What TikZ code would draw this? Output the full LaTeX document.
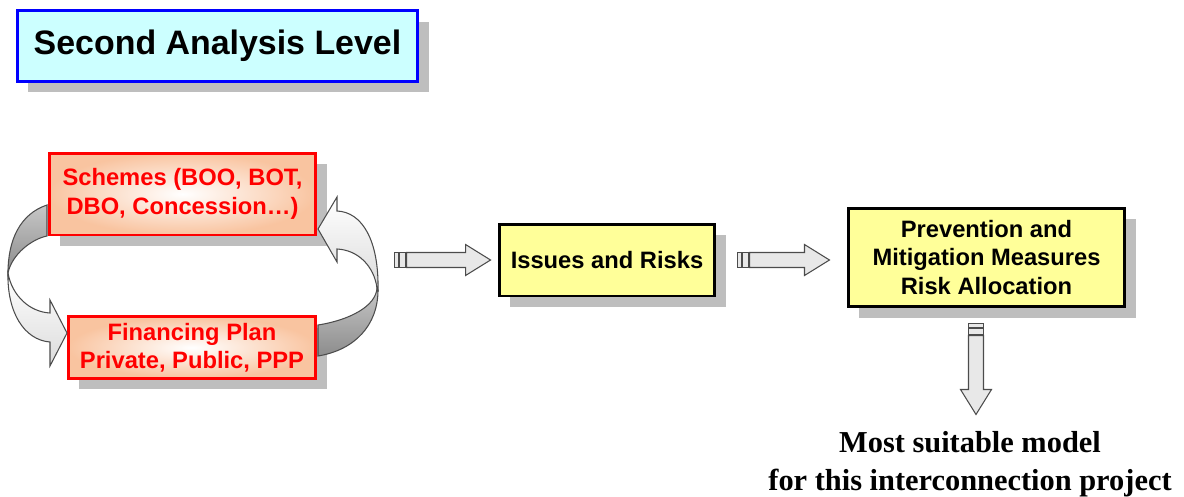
\documentclass[tikz,border=0pt]{standalone}
\usepackage{fontspec}
\setmainfont{Liberation Sans}
\newfontfamily\resultfont{Liberation Serif}
\usetikzlibrary{shadows}

\definecolor{titlefill}{HTML}{CCFFFF}
\definecolor{boxyellow}{HTML}{FFFF99}
\definecolor{peach}{HTML}{F9C4A0}
\definecolor{shadowgray}{HTML}{BEBEBE}

\tikzset{
  boxshadow/.style={drop shadow={shadow xshift=0.22cm,shadow yshift=-0.22cm,fill=shadowgray,opacity=1}},
  titlebox/.style={draw=blue,fill=titlefill,line width=1.7pt,boxshadow,
    font=\fontsize{19.3}{23}\selectfont\bfseries},
  planbox/.style={draw=red,line width=1.7pt,inner color=white,outer color=peach,text=red,
    boxshadow,align=center,font=\fontsize{13.5}{16.2}\selectfont\bfseries},
  stepbox/.style={draw=black,fill=boxyellow,line width=1.7pt,boxshadow,align=center,
    font=\fontsize{13.5}{16.2}\selectfont\bfseries},
  arrowpart/.style={draw=black!70,line width=0.6pt,fill=black!9},
  loopfront/.style={draw=black!70,line width=0.6pt,top color=white,bottom color=black!14},
  loopback/.style={draw=black!70,line width=0.6pt,top color=black!22,bottom color=black!45},
  pics/bigarrow/.style={code={
    \draw[arrowpart] (0,-7.5) rectangle (4,7.5);
    \draw[arrowpart] (5,-7.5) rectangle (11,7.5);
    \draw[arrowpart] (12,-7.5) -- ({#1-25},-7.5) -- ({#1-25},-15.5) -- (#1,0)
      -- ({#1-25},15.5) -- ({#1-25},7.5) -- (12,7.5) -- cycle;
  }}
}

\begin{document}
\begin{tikzpicture}[x=0.02cm,y=-0.02cm]
\useasboundingbox (0,0) rectangle (1184,497);

\node[titlebox,minimum width=8.02cm,minimum height=1.42cm] (title) at (217.5,46) {Second Analysis Level};

\node[planbox,minimum width=5.34cm,minimum height=1.64cm] (schemes) at (182.5,194)
  {Schemes (BOO, BOT,\\DBO, Concession\dots)};
\node[planbox,minimum width=4.96cm,minimum height=1.22cm] (financing) at (192,347.5)
  {Financing Plan\\Private, Public, PPP};

\node[stepbox,minimum width=4.32cm,minimum height=1.44cm] (issues) at (607,260) {Issues and Risks};
\node[stepbox,minimum width=5.54cm,minimum height=1.98cm] (prevention) at (986.5,257.5)
  {Prevention and\\Mitigation Measures\\Risk Allocation};

% loop between schemes and financing
\draw[loopback] (47,205) .. controls (20,214) and (8,240) .. (8,273)
  .. controls (12,254) and (32,239) .. (47,236) -- cycle;
\draw[loopfront] (8,273) .. controls (12,296) and (30,312) .. (50,313) -- (50,300)
  -- (67,333) -- (50,366) -- (50,342) .. controls (24,340) and (7,312) .. (8,273) -- cycle;
\draw[loopback] (318,325) .. controls (350,320) and (376,306) .. (377,288)
  -- (378,290) .. controls (378,325) and (355,350) .. (318,356) -- cycle;
\draw[loopfront] (378,290) .. controls (379,240) and (362,212) .. (337,211) -- (337,197)
  -- (318,229) -- (337,262) -- (337,249) .. controls (358,250) and (374,266) .. (377,288) -- cycle;

\pic at ([xshift=-2.06cm]issues.west) {bigarrow=96};
\pic at ([xshift=0.42cm]issues.east) {bigarrow=92};
\pic[rotate=-90] at ([xshift=-0.21cm,yshift=-0.3cm]prevention.south) {bigarrow=91};

\node[font=\resultfont\bfseries\fontsize{17.3}{21.6}\selectfont,align=center] (result) at (970,464)
  {Most suitable model\\for this interconnection project};
\end{tikzpicture}
\end{document}
